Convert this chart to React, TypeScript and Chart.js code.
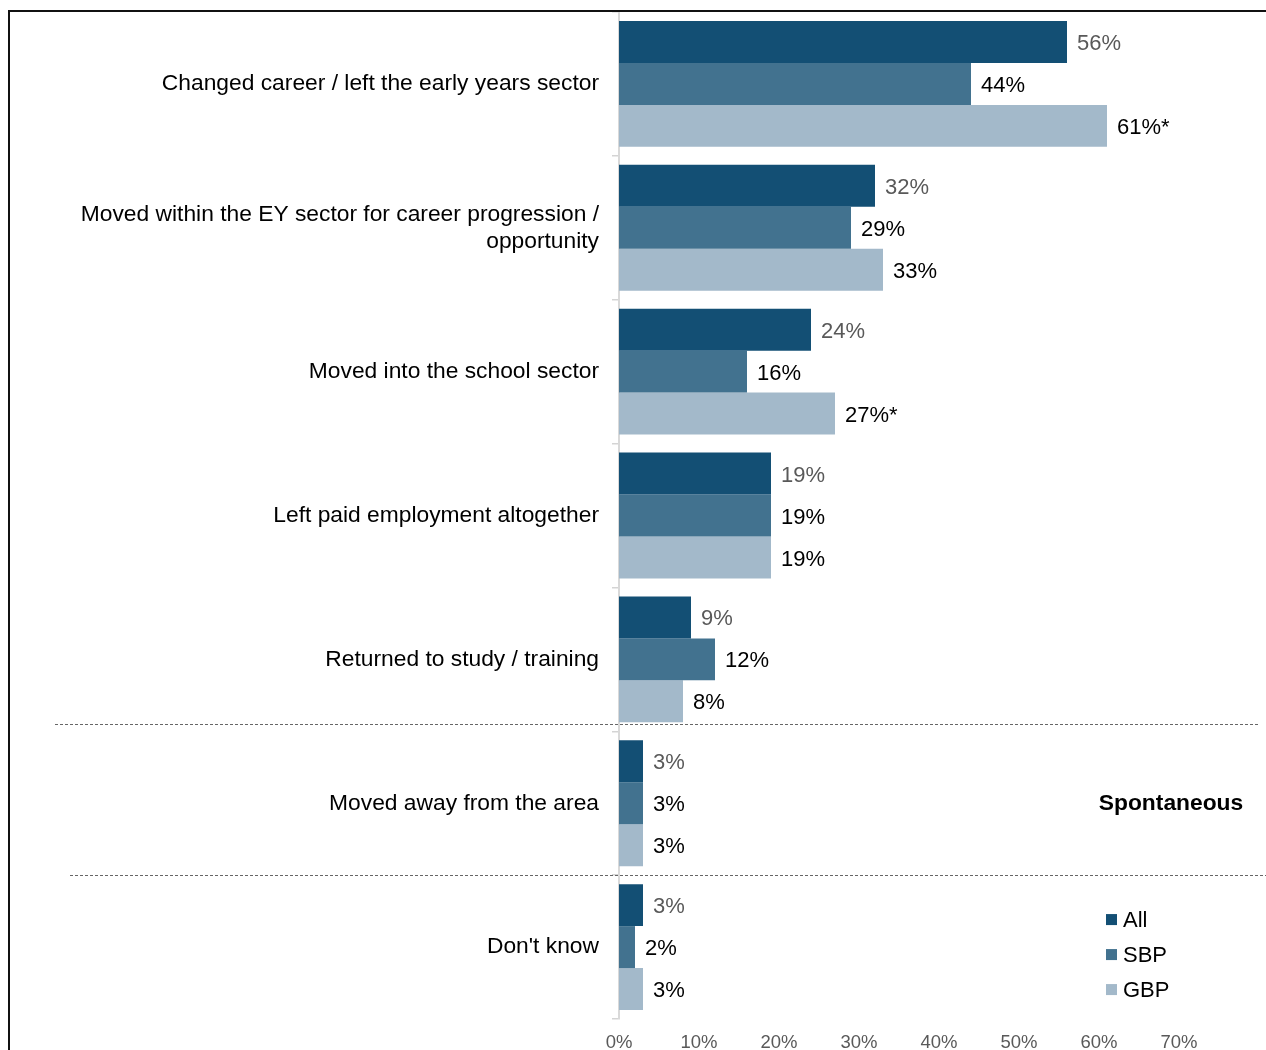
import React, { useEffect, useRef } from "react";
import { Chart, registerables } from "chart.js";

Chart.register(...registerables);

const categories: (string | string[])[] = [
  "Changed career / left the early years sector",
  ["Moved within the EY sector for career progression /", "opportunity"],
  "Moved into the school sector",
  "Left paid employment altogether",
  "Returned to study / training",
  "Moved away from the area",
  "Don't know",
];
const seriesNames = ["All", "SBP", "GBP"];
const allValues = [56, 32, 24, 19, 9, 3, 3];
const sbpValues = [44, 29, 16, 19, 12, 3, 2];
const gbpValues = [61, 33, 27, 19, 8, 3, 3];
const gbpNotes = ["*", "", "*", "", "", "", ""];
const xTicks = [0, 10, 20, 30, 40, 50, 60, 70];
const noteText = "Spontaneous";

const COLORS = ["#134f74", "#42728f", "#a3b9ca"];
const LABEL_COLORS = ["#595959", "#000000", "#000000"];
const FONT = "'Liberation Sans', Arial, sans-serif";

export default function App() {
  const ref = useRef<HTMLCanvasElement | null>(null);
  useEffect(() => {
    if (!ref.current) return;
    const notes = [allValues.map(() => ""), sbpValues.map(() => ""), gbpNotes];

    const labelsPlugin = {
      id: "barLabels",
      afterDatasetsDraw(chart: any) {
        const ctx = chart.ctx;
        ctx.save();
        ctx.font = `22px ${FONT}`;
        ctx.textBaseline = "middle";
        ctx.textAlign = "left";
        chart.data.datasets.forEach((ds: any, di: number) => {
          const meta = chart.getDatasetMeta(di);
          meta.data.forEach((el: any, i: number) => {
            ctx.fillStyle = LABEL_COLORS[di];
            ctx.fillText(`${ds.data[i]}%${notes[di][i]}`, el.x + 10, el.y + 2);
          });
        });
        ctx.restore();
      },
    };

    const decoPlugin = {
      id: "deco",
      afterDraw(chart: any) {
        const ctx = chart.ctx;
        const y = chart.scales.y;
        const area = chart.chartArea;
        ctx.save();
        // frame
        ctx.strokeStyle = "#111";
        ctx.lineWidth = 2;
        ctx.beginPath();
        ctx.moveTo(9, 1050);
        ctx.lineTo(9, 11);
        ctx.lineTo(1266, 11);
        ctx.stroke();
        // dashed separators
        ctx.strokeStyle = "#666";
        ctx.lineWidth = 1;
        ctx.setLineDash([3, 2]);
        const y1 = Math.round(y.getPixelForValue(4.5) - 7) + 0.5;
        const y2 = Math.round(y.getPixelForValue(5.5)) + 0.5;
        ctx.beginPath();
        ctx.moveTo(55, y1);
        ctx.lineTo(1258, y1);
        ctx.moveTo(70, y2);
        ctx.lineTo(1266, y2);
        ctx.stroke();
        ctx.setLineDash([]);
        // note
        ctx.fillStyle = "#000";
        ctx.font = `bold 22.8px ${FONT}`;
        ctx.textAlign = "center";
        ctx.textBaseline = "middle";
        ctx.fillText(noteText, area.right - 8, y.getPixelForValue(5));
        // legend
        ctx.font = `22px ${FONT}`;
        ctx.textAlign = "left";
        const baseY = y.getPixelForValue(6) - 27;
        seriesNames.forEach((name, i) => {
          const cy = baseY + i * 35;
          ctx.fillStyle = COLORS[i];
          ctx.fillRect(area.right - 73, cy - 6, 11, 11);
          ctx.fillStyle = "#000";
          ctx.fillText(name, area.right - 56, cy + 1);
        });
        ctx.restore();
      },
    };

    const chart = new Chart(ref.current, {
      type: "bar",
      data: {
        labels: categories,
        datasets: [allValues, sbpValues, gbpValues].map((d, i) => ({
          label: seriesNames[i],
          data: d,
          backgroundColor: COLORS[i],
          borderWidth: 0,
          categoryPercentage: 0.875,
          barPercentage: 1,
        })),
      },
      options: {
        indexAxis: "y",
        responsive: false,
        animation: false,
        devicePixelRatio: 1,
        layout: { padding: { top: 12, right: 87, left: 0, bottom: 0 } },
        plugins: {
          legend: { display: false },
          tooltip: { enabled: false },
        },
        scales: {
          x: {
            type: "linear",
            min: 0,
            max: 70,
            afterBuildTicks: (scale: any) => {
              scale.ticks = xTicks.map((v) => ({ value: v }));
            },
            afterFit: (scale: any) => {
              scale.height = 31;
              scale.paddingLeft = 0;
              scale.paddingRight = 0;
            },
            grid: { display: false, drawTicks: false },
            border: { display: false },
            ticks: {
              padding: 13,
              color: "#595959",
              font: { family: FONT, size: 18.5 },
              callback: (v: any) => `${v}%`,
            },
          },
          y: {
            type: "category",
            offset: true,
            afterFit: (scale: any) => {
              scale.width = 619;
              scale.paddingTop = 0;
              scale.paddingBottom = 0;
            },
            grid: {
              drawOnChartArea: false,
              drawTicks: true,
              tickLength: 7,
              color: "#d4d4d4",
              lineWidth: 1.5,
              offset: true,
            },
            border: { display: true, color: "#d9d9d9", width: 2 },
            ticks: {
              padding: 13,
              color: "#000",
              font: { family: FONT, size: 22.8, lineHeight: 1.19 },
            },
          },
        },
      },
      plugins: [labelsPlugin, decoPlugin],
    } as any);
    return () => chart.destroy();
  }, []);

  return (
    <canvas
      ref={ref}
      width={1266}
      height={1050}
      style={{ position: "absolute", left: 0, top: 0, width: 1266, height: 1050, display: "block" }}
    />
  );
}
